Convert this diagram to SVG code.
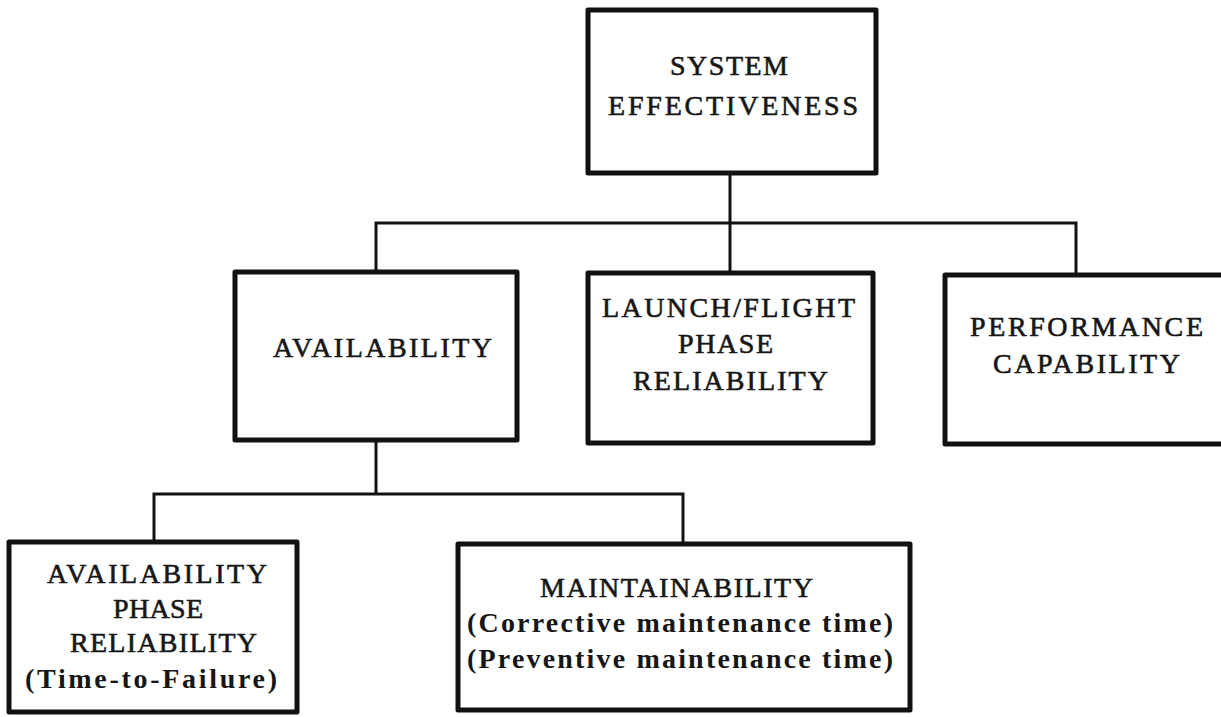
<svg xmlns="http://www.w3.org/2000/svg" width="1221" height="717" viewBox="0 0 1221 717">
  <style>
    .box { fill: #ffffff; stroke: #111111; stroke-width: 5; stroke-linejoin: round; }
    .wire { fill: none; stroke: #111111; stroke-width: 3; }
    .cap { font-family: "Liberation Serif", "Times New Roman", serif; font-size: 28px; fill: #161616; stroke: #161616; stroke-width: 0.6; }
    .sub { font-family: "Liberation Serif", "Times New Roman", serif; font-size: 28px; font-weight: bold; fill: #161616; }
  </style>
  <rect x="0" y="0" width="1221" height="717" fill="#ffffff"/>

  <!-- tree connectors -->
  <g id="connectors">
    <path class="wire" d="M730,173 V272"/>
    <path class="wire" d="M376,271 V223 H1076 V274"/>
    <path class="wire" d="M376,440 V494"/>
    <path class="wire" d="M154,542 V494 H683 V544"/>
  </g>

  <g id="system-effectiveness">
    <rect class="box" x="588" y="10" width="288" height="163"/>
    <text class="cap" x="670" y="75" textLength="118" lengthAdjust="spacing">SYSTEM</text>
    <text class="cap" x="608" y="115" textLength="250" lengthAdjust="spacing">EFFECTIVENESS</text>
  </g>

  <g id="availability">
    <rect class="box" x="235" y="272" width="282" height="168"/>
    <text class="cap" x="273" y="357" textLength="219" lengthAdjust="spacing">AVAILABILITY</text>
  </g>

  <g id="launch-flight">
    <rect class="box" x="588" y="273" width="285" height="170"/>
    <text class="cap" x="602" y="317" textLength="253" lengthAdjust="spacing">LAUNCH/FLIGHT</text>
    <text class="cap" x="678" y="353" textLength="95" lengthAdjust="spacing">PHASE</text>
    <text class="cap" x="633" y="390" textLength="195" lengthAdjust="spacing">RELIABILITY</text>
  </g>

  <g id="performance">
    <rect class="box" x="945" y="275" width="290" height="169"/>
    <text class="cap" x="970" y="336" textLength="233" lengthAdjust="spacing">PERFORMANCE</text>
    <text class="cap" x="993" y="373" textLength="187" lengthAdjust="spacing">CAPABILITY</text>
  </g>

  <g id="availability-phase">
    <rect class="box" x="9" y="542" width="288" height="170"/>
    <text class="cap" x="47" y="583" textLength="220" lengthAdjust="spacing">AVAILABILITY</text>
    <text class="cap" x="113" y="618" textLength="90" lengthAdjust="spacing">PHASE</text>
    <text class="cap" x="70" y="652" textLength="187" lengthAdjust="spacing">RELIABILITY</text>
    <text class="sub" x="25" y="688" textLength="252" lengthAdjust="spacing">(Time-to-Failure)</text>
  </g>

  <g id="maintainability">
    <rect class="box" x="458" y="544" width="452" height="166"/>
    <text class="cap" x="540" y="597" textLength="273" lengthAdjust="spacing">MAINTAINABILITY</text>
    <text class="sub" x="467" y="632" textLength="426" lengthAdjust="spacing">(Corrective maintenance time)</text>
    <text class="sub" x="467" y="668" textLength="426" lengthAdjust="spacing">(Preventive maintenance time)</text>
  </g>
</svg>
